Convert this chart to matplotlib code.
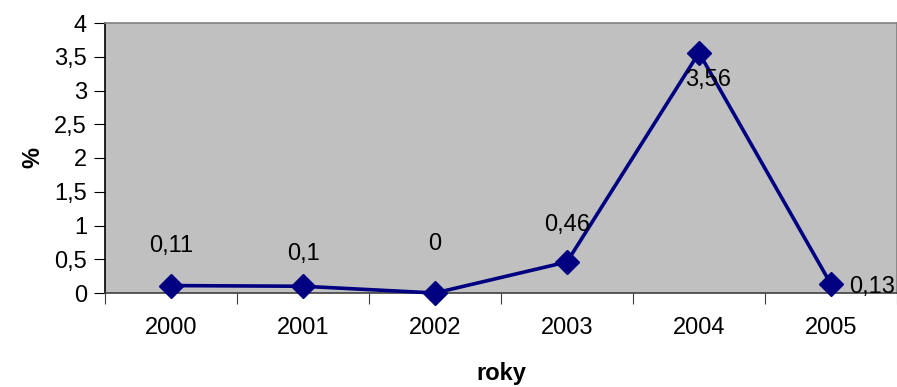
import matplotlib.pyplot as plt
from matplotlib.ticker import FixedLocator, FuncFormatter

plt.rcParams['font.family'] = ['Liberation Sans', 'DejaVu Sans']

# Data
roky = ['2000', '2001', '2002', '2003', '2004', '2005']
hodnoty = [0.11, 0.10, 0.0, 0.46, 3.56, 0.13]
popisky = ['0,11', '0,1', '0', '0,46', '3,56', '0,13']

# label offsets in pixels (dx, dy) relative to each point
posuny = [(0, 40), (0, 32), (0, 49), (0, 37), (9, -27), (18, -3)]
zarovnani = ['center', 'center', 'center', 'center', 'center', 'left']

fs = 17

fig = plt.figure(figsize=(8.97, 3.87), dpi=100)
ax = fig.add_axes([105 / 897, 1 - 293 / 387, 792 / 897, 270 / 387])
ax.set_facecolor('#C0C0C0')

x = list(range(len(roky)))
ax.plot(x, hodnoty, color='#000080', linewidth=2.6, marker='D',
        markersize=12, markerfacecolor='#000080', markeredgecolor='#000080',
        zorder=3, clip_on=False)

for xi, yi, txt, (dx, dy), ha in zip(x, hodnoty, popisky, posuny, zarovnani):
    ax.annotate(txt, (xi, yi), xytext=(dx, dy), textcoords='offset pixels',
                ha=ha, va='center', fontsize=fs, color='black', zorder=4)

ax.set_xlim(-0.5, len(roky) - 0.5)
ax.set_ylim(0, 4)

# category ticks sit between the years
ax.xaxis.set_major_locator(FixedLocator([i - 0.5 for i in range(len(roky) + 1)]))
ax.xaxis.set_major_formatter(FuncFormatter(lambda v, p: ''))
ax.xaxis.set_minor_locator(FixedLocator(x))
ax.set_xticklabels(roky, minor=True)
ax.tick_params(axis='x', which='minor', length=0, pad=17, labelsize=fs)
ax.tick_params(axis='x', which='major', length=8, direction='out', color='#404040')

yt = [i * 0.5 for i in range(9)]
ax.set_yticks(yt)
ax.set_yticklabels([('%g' % v).replace('.', ',') for v in yt])
ax.tick_params(axis='y', length=8, direction='out', labelsize=fs, pad=5)

ax.spines['left'].set_color('black')
ax.spines['bottom'].set_color('#404040')
ax.spines['top'].set_color('#808080')
ax.spines['right'].set_color('#808080')
for s in ax.spines.values():
    s.set_linewidth(1.2)

ax.set_xlabel('roky', fontsize=fs, fontweight='bold', labelpad=17)
ax.set_ylabel('%', fontsize=fs, fontweight='bold', labelpad=7)

fig.savefig('out.png', dpi=100)
